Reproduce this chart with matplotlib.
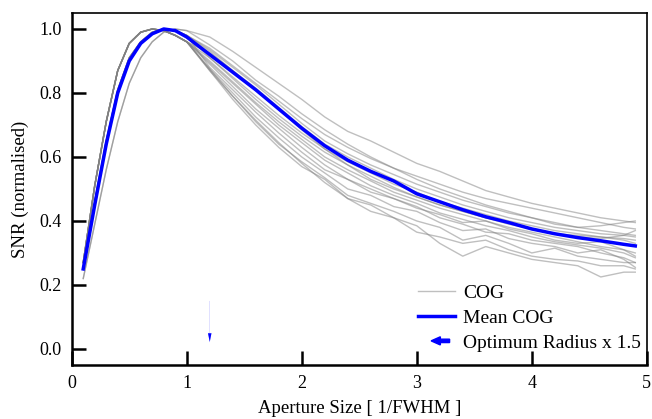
import numpy as np
import matplotlib
matplotlib.use("Agg")
import matplotlib.pyplot as plt
import matplotlib.patches as mpatches
from matplotlib.legend_handler import HandlerPatch

plt.rcParams['font.family'] = ['Liberation Serif', 'DejaVu Serif']

# aperture grid (1/FWHM)
aper = [0.1, 0.2, 0.3, 0.4, 0.5, 0.6, 0.7, 0.8, 0.9, 1.0,
        1.2, 1.4, 1.6, 1.8, 2.0, 2.2, 2.4, 2.6, 2.8, 3.0,
        3.2, 3.4, 3.6, 3.8, 4.0, 4.2, 4.4, 4.6, 4.8, 4.9]

rise_fast = [0.27, 0.51, 0.71, 0.87, 0.955, 0.99, 1.0, 0.995, 0.98, 0.96]
rise_med = [0.25, 0.46, 0.65, 0.81, 0.91, 0.96, 0.99, 1.0, 0.995, 0.98]
rise_slow = [0.22, 0.39, 0.56, 0.71, 0.83, 0.91, 0.96, 0.99, 1.0, 0.995]

# individual curves of growth, tail part (1.2 .. 4.9)
cog_tails = [
    (rise_slow, [0.975, 0.93, 0.88, 0.83, 0.78, 0.725, 0.68, 0.65, 0.615, 0.58,
                 0.555, 0.525, 0.495, 0.475, 0.455, 0.44, 0.425, 0.41, 0.40, 0.395]),
    (rise_med, [0.94, 0.885, 0.83, 0.775, 0.72, 0.67, 0.63, 0.595, 0.565, 0.54,
                0.515, 0.49, 0.47, 0.455, 0.44, 0.425, 0.41, 0.395, 0.38, 0.375]),
    (rise_med, [0.935, 0.88, 0.825, 0.765, 0.705, 0.65, 0.61, 0.575, 0.545, 0.515,
                0.49, 0.465, 0.445, 0.425, 0.41, 0.39, 0.38, 0.385, 0.395, 0.40]),
    (rise_fast, [0.925, 0.87, 0.815, 0.755, 0.695, 0.64, 0.60, 0.565, 0.53, 0.50,
                 0.475, 0.45, 0.43, 0.41, 0.395, 0.38, 0.37, 0.36, 0.355, 0.35]),
    (rise_fast, [0.91, 0.85, 0.79, 0.73, 0.675, 0.625, 0.585, 0.55, 0.515, 0.49,
                 0.46, 0.44, 0.42, 0.40, 0.385, 0.37, 0.36, 0.35, 0.345, 0.34]),
    (rise_med, [0.91, 0.845, 0.78, 0.72, 0.665, 0.615, 0.575, 0.54, 0.505, 0.475,
                0.45, 0.43, 0.41, 0.39, 0.375, 0.36, 0.35, 0.345, 0.355, 0.37]),
    (rise_fast, [0.90, 0.835, 0.77, 0.71, 0.655, 0.60, 0.56, 0.525, 0.49, 0.465,
                 0.44, 0.42, 0.40, 0.38, 0.365, 0.35, 0.335, 0.32, 0.31, 0.30]),
    (rise_fast, [0.895, 0.83, 0.765, 0.70, 0.645, 0.59, 0.55, 0.51, 0.48, 0.455,
                 0.425, 0.405, 0.385, 0.37, 0.35, 0.335, 0.325, 0.315, 0.30, 0.285]),
    (rise_fast, [0.89, 0.82, 0.75, 0.69, 0.63, 0.575, 0.53, 0.50, 0.47, 0.44,
                 0.42, 0.395, 0.40, 0.375, 0.36, 0.34, 0.33, 0.335, 0.31, 0.29]),
    (rise_med, [0.88, 0.81, 0.74, 0.675, 0.615, 0.56, 0.53, 0.49, 0.47, 0.445,
                0.41, 0.39, 0.365, 0.36, 0.34, 0.33, 0.32, 0.30, 0.285, 0.27]),
    (rise_fast, [0.875, 0.80, 0.725, 0.66, 0.60, 0.55, 0.50, 0.48, 0.445, 0.43,
                 0.395, 0.37, 0.375, 0.345, 0.33, 0.32, 0.30, 0.31, 0.28, 0.255]),
    (rise_fast, [0.87, 0.79, 0.71, 0.64, 0.585, 0.535, 0.48, 0.455, 0.43, 0.40,
                 0.38, 0.34, 0.355, 0.33, 0.30, 0.315, 0.29, 0.28, 0.27, 0.27]),
    (rise_fast, [0.87, 0.78, 0.70, 0.63, 0.57, 0.53, 0.47, 0.43, 0.41, 0.385,
                 0.33, 0.29, 0.32, 0.30, 0.28, 0.27, 0.26, 0.225, 0.24, 0.24]),
    (rise_fast, [0.875, 0.79, 0.715, 0.645, 0.58, 0.52, 0.47, 0.45, 0.41, 0.365,
                 0.35, 0.33, 0.34, 0.31, 0.29, 0.28, 0.275, 0.26, 0.26, 0.25]),
    (rise_med, [0.93, 0.87, 0.81, 0.75, 0.685, 0.625, 0.575, 0.53, 0.50, 0.475,
                0.45, 0.43, 0.41, 0.395, 0.375, 0.36, 0.355, 0.35, 0.34, 0.33]),
    (rise_slow, [0.95, 0.90, 0.84, 0.79, 0.735, 0.685, 0.64, 0.60, 0.565, 0.53,
                 0.50, 0.475, 0.45, 0.43, 0.41, 0.395, 0.38, 0.37, 0.36, 0.355]),
]

mean_cog = [0.25, 0.45, 0.64, 0.80, 0.90, 0.955, 0.985, 1.0, 0.995, 0.975,
            0.92, 0.865, 0.81, 0.75, 0.69, 0.635, 0.59, 0.555, 0.525, 0.485,
            0.46, 0.435, 0.413, 0.395, 0.375, 0.36, 0.348, 0.338, 0.327, 0.322]

opt_radius = 0.8 * 1.5

fig, ax = plt.subplots(figsize=(6.52, 4.19), dpi=100)
fig.subplots_adjust(left=0.110, right=0.992, top=0.969, bottom=0.129)

for i, (rise, tail) in enumerate(cog_tails):
    ax.plot(aper, rise + tail, color='grey', alpha=0.5, lw=1.0)
ax.plot(aper, mean_cog, color='blue', lw=2.5)

# optimum radius marker: faint shaft plus solid head
ax.arrow(opt_radius, 0.15, 0, -0.1, width=0.004, head_width=0.03,
         head_length=0.03, color='blue', alpha=0.25, lw=0)
ax.arrow(opt_radius, 0.05, 0, -0.001, width=0.0, head_width=0.03,
         head_length=0.027, color='blue', lw=0)


def make_arrow(legend, orig_handle, xdescent, ydescent, width, height, fontsize):
    return mpatches.FancyArrow(width * 0.85, height / 2, -width * 0.5, 0,
                               width=height * 0.25, head_width=height * 0.6,
                               head_length=width * 0.25, length_includes_head=True)


h_cog, = ax.plot([], [], color='grey', alpha=0.5, lw=1.0)
h_mean, = ax.plot([], [], color='blue', lw=2.5)
h_arrow = mpatches.FancyArrow(0, 0, 1, 0, color='blue')
ax.legend([h_cog, h_mean, h_arrow], ['COG', 'Mean COG', 'Optimum Radius x 1.5'],
          loc='lower right', frameon=False, fontsize=14,
          handler_map={mpatches.FancyArrow: HandlerPatch(patch_func=make_arrow)},
          bbox_to_anchor=(1.02, -0.012), handlelength=1.9, handletextpad=0.4,
          labelspacing=0.38)

ax.set_xlim(0, 5)
ax.set_ylim(-0.05, 1.05)
ax.set_xticks([0, 1, 2, 3, 4, 5])
ax.set_yticks([0.0, 0.2, 0.4, 0.6, 0.8, 1.0])
ax.tick_params(direction='in', length=10, width=1.8, labelsize=13, pad=7,
               top=False, right=False)
for s in ['left', 'bottom']:
    ax.spines[s].set_linewidth(1.8)
for s in ['top', 'right']:
    ax.spines[s].set_linewidth(1.2)
ax.set_xlabel('Aperture Size [ 1/FWHM ]', fontsize=13.5, labelpad=6)
ax.set_ylabel('SNR (normalised)', fontsize=13.5, labelpad=8)

plt.savefig('out.png', dpi=100)
